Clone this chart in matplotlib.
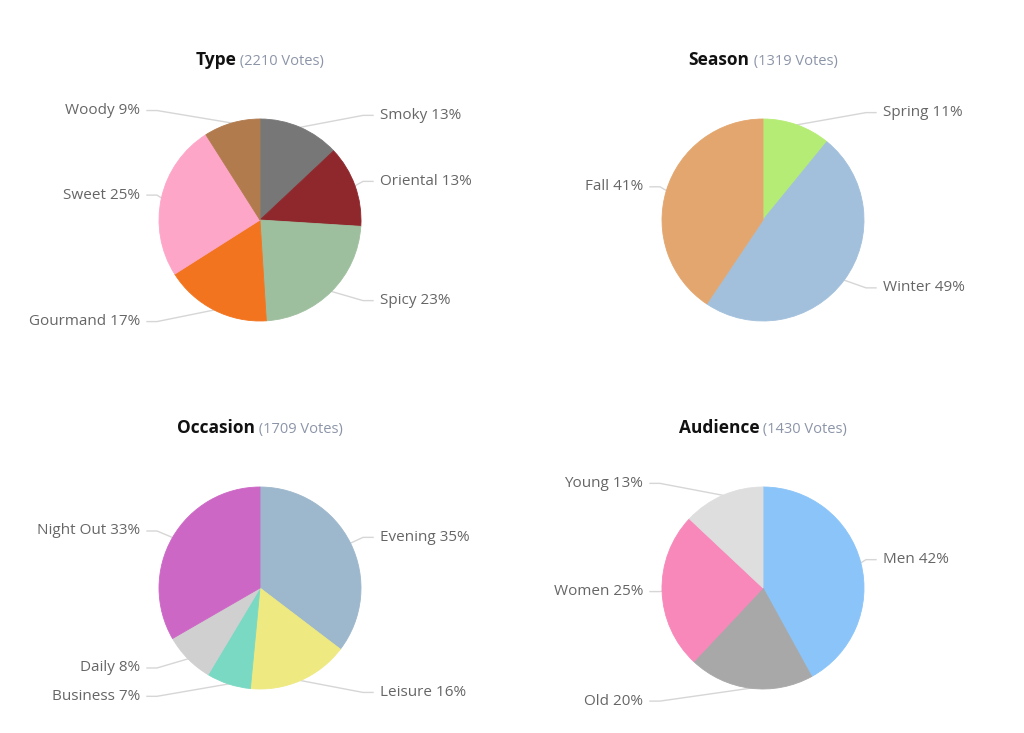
#!/usr/bin/env python3
"""Four vote-share pie charts (Type, Season, Occasion, Audience) in a 2x2 grid."""

import numpy as np
import matplotlib

matplotlib.use("Agg")

import matplotlib.pyplot as plt

plt.rcParams["font.family"] = ["Open Sans", "DejaVu Sans"]

W, H = 1024, 733

TYPE_LABELS = ["Smoky", "Oriental", "Spicy", "Gourmand", "Sweet", "Woody"]
TYPE_VALUES = [13, 13, 23, 17, 25, 9]
TYPE_COLORS = ["#777777", "#8f282d", "#9ebf9e", "#f3741f", "#fda6c8", "#b17b4e"]
TYPE_VOTES = 2210

SEASON_LABELS = ["Spring", "Winter", "Fall"]
SEASON_VALUES = [11, 49, 41]
SEASON_COLORS = ["#b5ec75", "#a2c0dc", "#e3a66e"]
SEASON_VOTES = 1319

OCCASION_LABELS = ["Evening", "Leisure", "Business", "Daily", "Night Out"]
OCCASION_VALUES = [35, 16, 7, 8, 33]
OCCASION_COLORS = ["#9db7cc", "#eee981", "#7ad9c3", "#d0d0d0", "#cd67c5"]
OCCASION_VOTES = 1709

AUDIENCE_LABELS = ["Men", "Old", "Women", "Young"]
AUDIENCE_VALUES = [42, 20, 25, 13]
AUDIENCE_COLORS = ["#8ac4f8", "#a8a8a8", "#f788b9", "#dedede"]
AUDIENCE_VOTES = 1430

RADIUS = 101
LABEL_RADIUS = 114
LABEL_COLOR = "#666666"
LINE_COLOR = "#d6d6d6"


def draw_title(ax, cx, y, name, votes):
    renderer = ax.figure.canvas.get_renderer()
    t1 = ax.text(0, y, name, fontsize=12.5, fontweight="bold", color="#111111",
                 ha="left", va="baseline")
    t2 = ax.text(0, y, f" ({votes} Votes)", fontsize=10.5, color="#8c95a8",
                 ha="left", va="baseline")
    w1 = t1.get_window_extent(renderer).width
    w2 = t2.get_window_extent(renderer).width
    x0 = cx - (w1 + w2) / 2
    t1.set_x(x0)
    t2.set_x(x0 + w1)


def draw_pie(ax, cx, cy, labels, values, colors, name, votes):
    # cx, cy in pixel coords from top-left; flip y for data coords
    py = H - cy
    wedges, _ = ax.pie(values, colors=colors, center=(cx, py), radius=RADIUS,
                       startangle=90, counterclock=False,
                       wedgeprops=dict(linewidth=0.6))
    total = sum(values)
    for wedge, label, val, col in zip(wedges, labels, values, colors):
        wedge.set_edgecolor(col)
        mid = np.deg2rad((wedge.theta1 + wedge.theta2) / 2)
        ex, ey = cx + RADIUS * np.cos(mid), py + RADIUS * np.sin(mid)
        ly = py + LABEL_RADIUS * np.sin(mid)
        side = 1 if np.cos(mid) >= 0 else -1
        ax.plot([ex, cx + side * 103, cx + side * 113], [ey, ly, ly],
                color=LINE_COLOR, lw=1, zorder=0)
        pct = round(100 * val / total)
        ax.text(cx + side * 120, ly, f"{label} {pct}%", fontsize=11, color=LABEL_COLOR,
                ha="left" if side > 0 else "right", va="center")
    draw_title(ax, cx, H - (cy - 155), name, votes)


fig = plt.figure(figsize=(W / 100, H / 100), dpi=100)
fig.patch.set_facecolor("white")
ax = fig.add_axes([0, 0, 1, 1])

draw_pie(ax, 260, 220, TYPE_LABELS, TYPE_VALUES, TYPE_COLORS, "Type", TYPE_VOTES)
draw_pie(ax, 763, 220, SEASON_LABELS, SEASON_VALUES, SEASON_COLORS, "Season", SEASON_VOTES)
draw_pie(ax, 260, 588, OCCASION_LABELS, OCCASION_VALUES, OCCASION_COLORS, "Occasion", OCCASION_VOTES)
draw_pie(ax, 763, 588, AUDIENCE_LABELS, AUDIENCE_VALUES, AUDIENCE_COLORS, "Audience", AUDIENCE_VOTES)

ax.set_xlim(0, W)
ax.set_ylim(0, H)
ax.set_aspect("equal")
ax.axis("off")

fig.savefig("out.png", dpi=100)
plt.close(fig)
